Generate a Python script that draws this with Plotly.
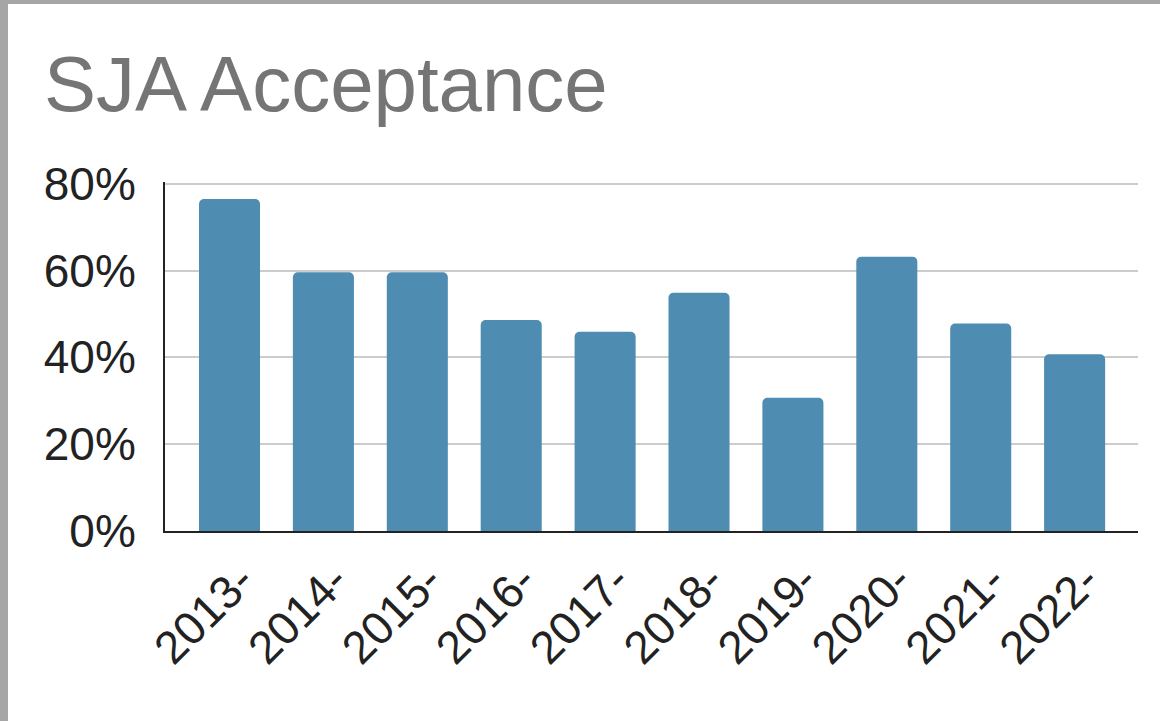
import plotly.graph_objects as go

# ---- data ----
categories = ["2013-", "2014-", "2015-", "2016-", "2017-",
              "2018-", "2019-", "2020-", "2021-", "2022-"]
acceptance = [76.5, 59.6, 59.6, 48.6, 45.9, 54.9, 30.7, 63.2, 47.8, 40.7]
y_ticks = [0, 20, 40, 60, 80]
y_tick_labels = ["0%", "20%", "40%", "60%", "80%"]
title_text = "SJA Acceptance"

# ---- layout constants ----
W, H = 1160, 721
ML, MR, MT, MB = 165, 22, 182, 190
PW, PH = W - ML - MR, H - MT - MB

def px_to_paper_x(px):
    return (px - ML) / PW

def px_to_paper_y(py):
    return (H - MB - py) / PH

FONT = "Liberation Sans, Arial, sans-serif"
FRAME = "#a6a6a6"

fig = go.Figure(
    go.Bar(
        x=categories,
        y=acceptance,
        marker=dict(color="#4e8cb1", line=dict(width=0), cornerradius=5),
        width=0.65,
    )
)

fig.update_layout(
    width=W,
    height=H,
    margin=dict(l=ML, r=MR, t=MT, b=MB, pad=0),
    paper_bgcolor="white",
    plot_bgcolor="white",
    showlegend=False,
    title=dict(
        text=title_text,
        x=44 / W,
        xanchor="left",
        xref="container",
        y=1 - 84 / H,
        yanchor="middle",
        yref="container",
        font=dict(family=FONT, size=78, color="#757575"),
    ),
    xaxis=dict(
        type="category",
        range=[-0.687, 9.675],
        showgrid=False,
        showline=True,
        linecolor="#222222",
        linewidth=2,
        layer="below traces",
        tickangle=-45,
        tickfont=dict(family=FONT, size=46, color="#222222"),
        ticks="",
        ticklabelstandoff=2,
        ticklabelshift=11,
        fixedrange=True,
    ),
    yaxis=dict(
        range=[0, 80.4],
        tickvals=y_ticks,
        ticktext=y_tick_labels,
        showgrid=True,
        gridcolor="#cccccc",
        gridwidth=2,
        zeroline=False,
        showline=True,
        linecolor="#222222",
        linewidth=2,
        layer="below traces",
        tickfont=dict(family=FONT, size=46, color="#222222"),
        ticks="",
        ticklabelstandoff=18,
        fixedrange=True,
    ),
    shapes=[
        # left grey frame strip
        dict(type="rect", xref="paper", yref="paper",
             x0=px_to_paper_x(0), x1=px_to_paper_x(8),
             y0=px_to_paper_y(H), y1=px_to_paper_y(0),
             fillcolor=FRAME, line=dict(width=0), layer="above"),
        # top grey frame strip
        dict(type="rect", xref="paper", yref="paper",
             x0=px_to_paper_x(0), x1=px_to_paper_x(W),
             y0=px_to_paper_y(4), y1=px_to_paper_y(0),
             fillcolor=FRAME, line=dict(width=0), layer="above"),
    ],
)

fig.write_html("out.html")
